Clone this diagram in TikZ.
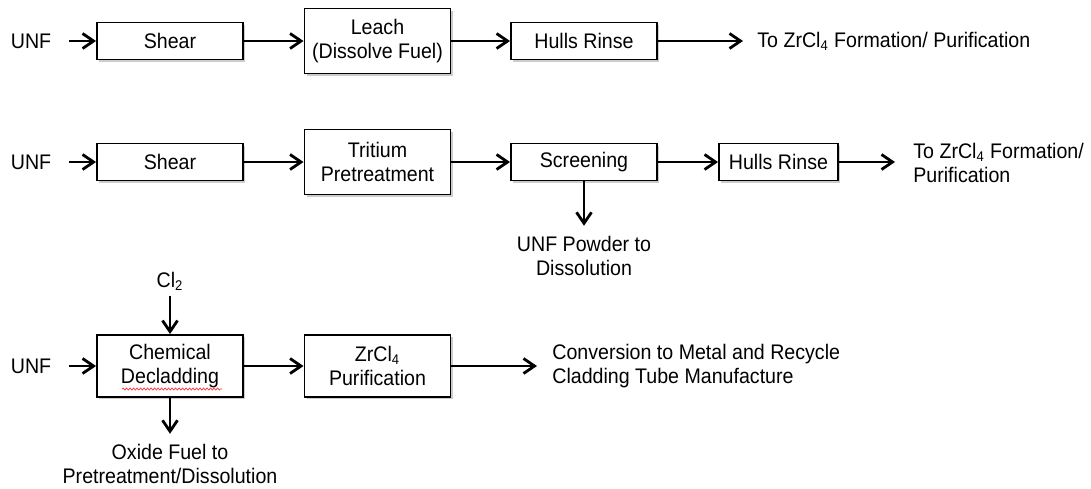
\documentclass[tikz,border=0pt]{standalone}
\usepackage{fontspec}
\setmainfont{Liberation Sans}[FakeStretch=0.93]
\usetikzlibrary{arrows.meta,shadows,decorations.pathmorphing}

\begin{document}
\begin{tikzpicture}[x=0.02cm, y=-0.02cm,
  font=\fontsize{12pt}{13.8pt}\selectfont,
  stage/.style={draw, rectangle, line width=1.1pt, fill=white, align=center, minimum width=2.92cm, minimum height=0.74cm, drop shadow={shadow xshift=1.3pt, shadow yshift=-1.3pt, opacity=0.4}},
  flow/.style={-{Straight Barb[length=2.2mm, width=3mm]}, line width=1.6pt},
  txt/.style={inner sep=0.1cm, align=center}]
\useasboundingbox (0,0) rectangle (1091,488);

\node[txt] (unf1) at (31,41) {UNF};
\node[stage] (shear1) at (170,41) {Shear};
\node[stage, minimum height=1.3cm] (leach1) at (377.5,41) {Leach\\(Dissolve Fuel)};
\node[stage] (rinse1) at (584,41) {Hulls Rinse};
\node[txt, anchor=west] (zr1) at (752,41) {To ZrCl\textsubscript{4} Formation/ Purification};

\draw[flow, shorten <=0.26cm] (unf1) -- (shear1);
\draw[flow] (shear1) -- (leach1);
\draw[flow] (leach1) -- (rinse1);
\draw[flow, shorten >=0.18cm] (rinse1) -- (zr1);

\node[txt] (unf2) at (31,162) {UNF};
\node[stage] (shear2) at (170,162) {Shear};
\node[stage, minimum height=1.3cm] (trit2) at (377.5,162) {Tritium\\Pretreatment};
\node[stage] (screen2) at (584,162) {Screening};
\node[stage, minimum width=2.38cm] (rinse2) at (778.5,162) {Hulls Rinse};
\node[txt, anchor=west, align=left] (zr2) at (908,163) {To ZrCl\textsubscript{4} Formation/\\Purification};
\node[txt] (powder2) at (584,256) {UNF Powder to\\Dissolution};

\draw[flow, shorten <=0.26cm] (unf2) -- (shear2);
\draw[flow] (shear2) -- (trit2);
\draw[flow] (trit2) -- (screen2);
\draw[flow] (screen2) -- (rinse2);
\draw[flow, shorten >=0.26cm] (rinse2) -- (zr2.west |- rinse2);
\draw[flow, shorten >=0.1cm] (screen2) -- (powder2);

\node[txt] (cl3) at (170,281) {Cl\textsubscript{2}};
\node[txt] (unf3) at (31,366) {UNF};
\node[stage, minimum height=1.24cm] (chem3) at (170,366) {Chemical\\Decladding};
\node[stage, minimum height=1.24cm] (zrp3) at (377.5,366) {ZrCl\textsubscript{4}\\Purification};
\node[txt, anchor=west, align=left] (conv3) at (547,366) {Conversion to Metal and Recycle\\Cladding Tube Manufacture};
\node[txt] (oxide3) at (170,464) {Oxide Fuel to\\Pretreatment/Dissolution};

\draw[red!80, line width=0.4pt, decorate, decoration={snake, amplitude=0.02cm, segment length=0.07cm}] (122,389) -- (222,389);

\draw[flow] (cl3) -- (chem3);
\draw[flow, shorten <=0.26cm] (unf3) -- (chem3);
\draw[flow] (chem3) -- (zrp3);
\draw[flow, shorten >=0.2cm] (zrp3) -- (conv3);
\draw[flow, shorten >=0.1cm] (chem3) -- (oxide3);
\end{tikzpicture}
\end{document}
